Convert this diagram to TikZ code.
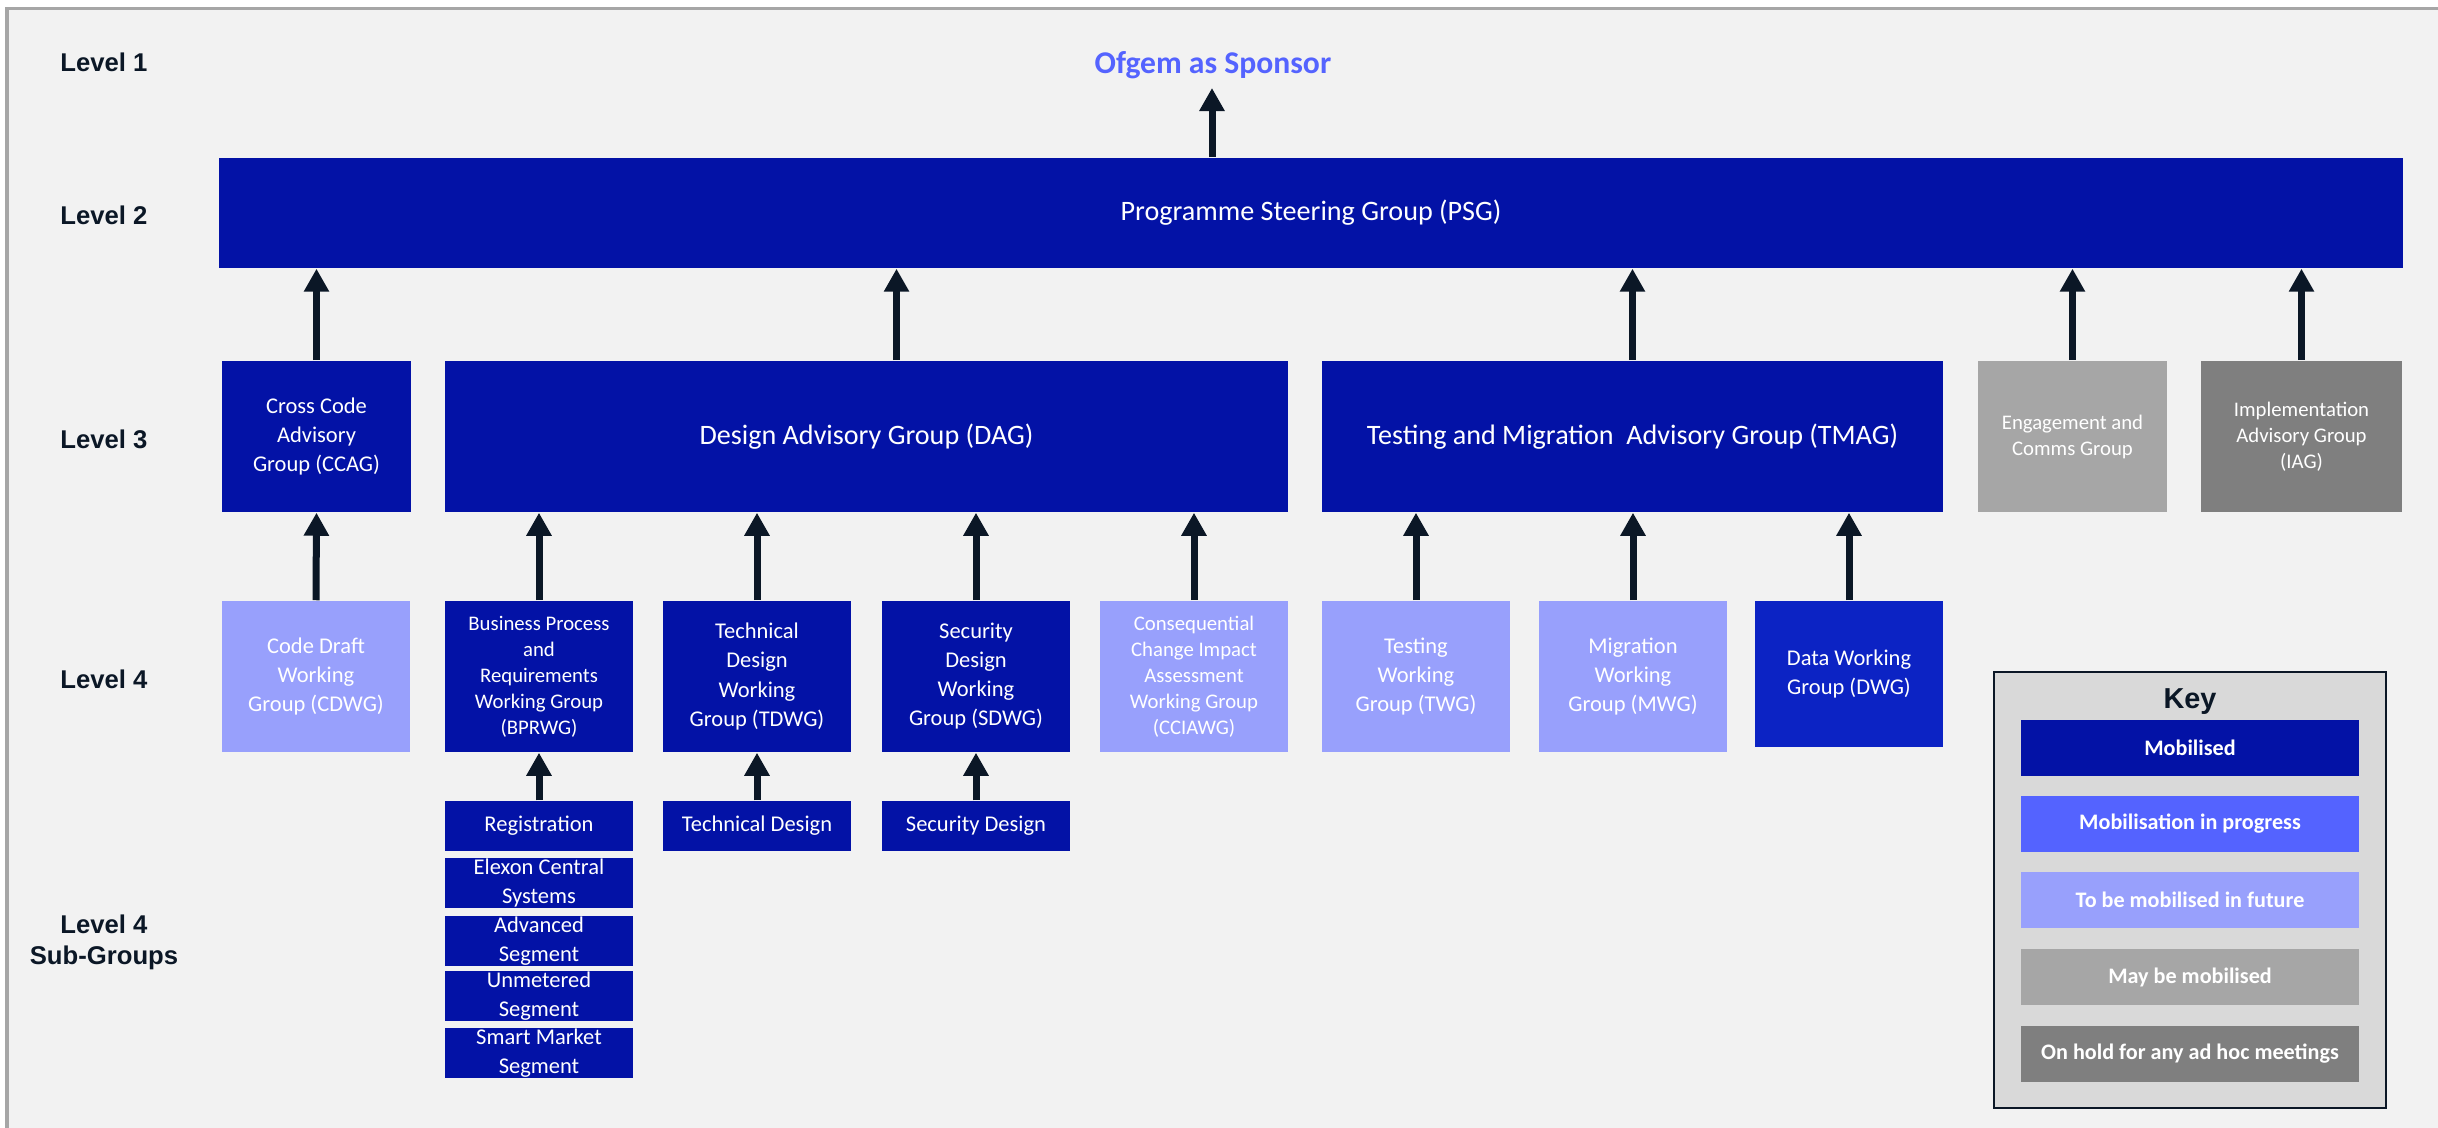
\documentclass[tikz,border=0pt]{standalone}
\usepackage{fontspec}
\setmainfont{Carlito}
\newfontfamily\arialfont{Liberation Sans}
\usepackage{xcolor}
\usetikzlibrary{arrows.meta,calc}

\definecolor{mobblue}{HTML}{0312A6}
\definecolor{dwgblue}{HTML}{0C23C4}
\definecolor{progblue}{HTML}{5463FF}
\definecolor{futblue}{HTML}{98A0FC}
\definecolor{maygray}{HTML}{A6A6A6}
\definecolor{holdgray}{HTML}{7F7F7F}
\definecolor{bggray}{HTML}{F2F2F2}
\definecolor{framegray}{HTML}{A6A6A6}
\definecolor{keygray}{HTML}{D9D9D9}
\definecolor{navy}{HTML}{0B1726}

\begin{document}
\begin{tikzpicture}[x=0.01cm, y=-0.01cm,
        grp/.style={inner sep=0pt, align=center, text=white, font=\fontsize{6.4}{8.25}\selectfont},
        small/.style={font=\fontsize{5.9}{7.4}\selectfont},
        big/.style={font=\fontsize{8}{10}\selectfont},
        lvl/.style={align=center, text=navy, font=\arialfont\bfseries\fontsize{7.3}{8.8}\selectfont},
        arr/.style={draw=navy, line width=0.07cm, -{Triangle[length=0.23cm,width=0.24cm]}},
        keyitem/.style={grp, minimum width=3.38cm, minimum height=0.56cm, font=\bfseries\fontsize{6.3}{7.5}\selectfont}]

        \useasboundingbox (0,0) rectangle (2438,1128);
        \fill[white] (0,0) rectangle (2438,1128);
        \fill[bggray] (7,9) rectangle (2438,1128);
        \draw[framegray, line width=0.03cm] (7,1128) -- (7,9) -- (2438,9);

        \def\boxw{1.88cm}; % width of a level 4 box
        \def\boxh{1.51cm}; % height of a level 3/4 box

        % level names
        \node[lvl] (l1) at (104,62) {Level 1};
        \node[lvl] (l2) at (104,215) {Level 2};
        \node[lvl] (l3) at (104,439) {Level 3};
        \node[lvl] (l4) at (104,679) {Level 4};
        \node[lvl] (l4sub) at (104,942) {Level 4\\Sub-Groups};

        % level 1 and 2
        \node[inner sep=0pt, text=progblue, font=\bfseries\fontsize{9}{11}\selectfont] (ofgem) at (1213,65) {Ofgem as Sponsor};
        \coordinate (ofgemtip) at (1212,88);
        \node[grp, big, fill=mobblue, minimum width=21.82cm, minimum height=1.10cm] (psg) at (1311,213) {Programme Steering Group (PSG)};

        % level 3
        \node[grp, fill=mobblue, minimum width=1.89cm, minimum height=\boxh] (ccag) at (316.5,436.5) {Cross Code\\Advisory\\Group (CCAG)};
        \node[grp, big, fill=mobblue, minimum width=8.43cm, minimum height=\boxh] (dag) at (866.5,436.5) {Design Advisory Group (DAG)};
        \node[grp, big, fill=mobblue, minimum width=6.21cm, minimum height=\boxh] (tmag) at (1632.5,436.5) {Testing and Migration\ \ Advisory Group (TMAG)};
        \node[grp, small, fill=maygray, minimum width=1.89cm, minimum height=\boxh] (eng) at (2072.5,436.5) {Engagement and\\Comms Group};
        \node[grp, small, fill=holdgray, minimum width=2.01cm, minimum height=\boxh] (iag) at (2301.5,436.5) {Implementation\\Advisory Group\\(IAG)};

        % level 4
        \node[grp, fill=futblue, minimum width=\boxw, minimum height=\boxh] (cdwg) at (316,676.5) {Code Draft\\Working\\Group (CDWG)};
        \node[grp, small, fill=mobblue, minimum width=\boxw, minimum height=\boxh] (bprwg) at (539,676.5) {Business Process\\and\\Requirements\\Working Group\\(BPRWG)};
        \node[grp, fill=mobblue, minimum width=\boxw, minimum height=\boxh] (tdwg) at (757,676.5) {Technical\\Design\\Working\\Group (TDWG)};
        \node[grp, fill=mobblue, minimum width=\boxw, minimum height=\boxh] (sdwg) at (976,676.5) {Security\\Design\\Working\\Group (SDWG)};
        \node[grp, small, fill=futblue, minimum width=\boxw, minimum height=\boxh] (cciawg) at (1194,676.5) {Consequential\\Change Impact\\Assessment\\Working Group\\(CCIAWG)};
        \node[grp, fill=futblue, minimum width=\boxw, minimum height=\boxh] (twg) at (1416,676.5) {Testing\\Working\\Group (TWG)};
        \node[grp, fill=futblue, minimum width=\boxw, minimum height=\boxh] (mwg) at (1633,676.5) {Migration\\Working\\Group (MWG)};
        \node[grp, fill=dwgblue, minimum width=\boxw, minimum height=1.46cm] (dwg) at (1849,674) {Data Working\\Group (DWG)};

        % level 4 sub-groups
        \node[grp, fill=mobblue, minimum width=\boxw, minimum height=0.50cm] (reg) at (539,826) {Registration};
        \node[grp, fill=mobblue, minimum width=\boxw, minimum height=0.50cm] (elexon) at (539,883) {Elexon Central\\Systems};
        \node[grp, fill=mobblue, minimum width=\boxw, minimum height=0.50cm] (adv) at (539,941) {Advanced\\Segment};
        \node[grp, fill=mobblue, minimum width=\boxw, minimum height=0.50cm] (unmet) at (539,996) {Unmetered\\Segment};
        \node[grp, fill=mobblue, minimum width=\boxw, minimum height=0.50cm] (smart) at (539,1053) {Smart Market\\Segment};
        \node[grp, fill=mobblue, minimum width=\boxw, minimum height=0.50cm] (techdes) at (757,826) {Technical Design};
        \node[grp, fill=mobblue, minimum width=\boxw, minimum height=0.50cm] (secdes) at (976,826) {Security Design};

        % arrows
        \coordinate (dagtop) at ([xshift=0.3cm]dag.north);
        \draw[arr] (ofgemtip |- psg.north) -- (ofgemtip);
        \draw[arr] (ccag.north) -- (ccag.north |- psg.south);
        \draw[arr] (dagtop) -- (dagtop |- psg.south);
        \draw[arr] (tmag.north) -- (tmag.north |- psg.south);
        \draw[arr] (eng.north) -- (eng.north |- psg.south);
        \draw[arr] (iag.north) -- (iag.north |- psg.south);

        \draw[arr] (cdwg.north) -- (ccag.south);
        \draw[arr] (bprwg.north) -- (bprwg.north |- dag.south);
        \draw[arr] (tdwg.north) -- (tdwg.north |- dag.south);
        \draw[arr] (sdwg.north) -- (sdwg.north |- dag.south);
        \draw[arr] (cciawg.north) -- (cciawg.north |- dag.south);
        \draw[arr] (twg.north) -- (twg.north |- tmag.south);
        \draw[arr] (mwg.north) -- (mwg.north |- tmag.south);
        \draw[arr] (dwg.north) -- (dwg.north |- tmag.south);

        \draw[arr] (reg.north) -- (bprwg.south);
        \draw[arr] (techdes.north) -- (tdwg.south);
        \draw[arr] (secdes.north) -- (sdwg.south);

        % key
        \node[draw=navy, fill=keygray, line width=0.02cm, minimum width=3.92cm, minimum height=4.36cm] (key) at (2190,890) {};
        \node[inner sep=0pt, text=navy, font=\arialfont\bfseries\fontsize{8.2}{10}\selectfont] (keytitle) at (2190,702) {Key};
        \node[keyitem, fill=mobblue] (kmob) at (2190,748) {Mobilised};
        \node[keyitem, fill=progblue] (kprog) at (2190,824) {Mobilisation in progress};
        \node[keyitem, fill=futblue] (kfut) at (2190,900) {To be mobilised in future};
        \node[keyitem, fill=maygray] (kmay) at (2190,977) {May be mobilised};
        \node[keyitem, fill=holdgray] (khold) at (2190,1054) {On hold for any ad hoc meetings};
    \end{tikzpicture}
\end{document}
